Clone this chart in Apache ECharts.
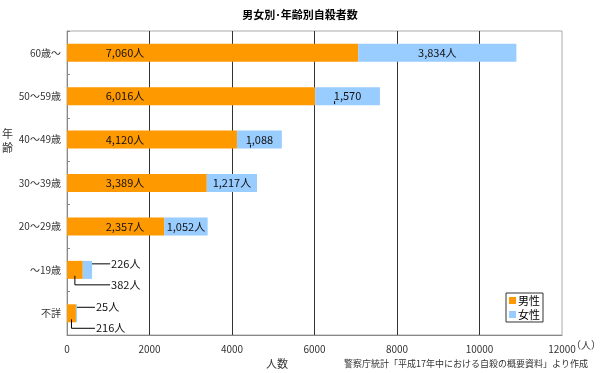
<!DOCTYPE html>
<html><head><meta charset="utf-8">
<script src="https://cdn.jsdelivr.net/npm/echarts@6/dist/echarts.min.js"></script>
<style>html,body{margin:0;padding:0;background:#fff}#c{width:600px;height:373px}</style>
</head><body><div id="c"></div>
<script>
var categories = ['60歳～', '50～59歳', '40～49歳', '30～39歳', '20～29歳', '～19歳', '不詳'];
var maleValues = [7060, 6016, 4120, 3389, 2357, 382, 216];
var femaleValues = [3834, 1570, 1088, 1217, 1052, 226, 25];
var maleLabels = ['7,060人', '6,016人', '4,120人', '3,389人', '2,357人', '382人', '216人'];
var femaleLabels = ['3,834人', '1,570', '1,088', '1,217人', '1,052人', '226人', '25人'];
var xTicks = [0, 2000, 4000, 6000, 8000, 10000, 12000];

var FONT = '"Noto Sans CJK JP", "Noto Sans", sans-serif';
var chart = echarts.init(document.getElementById('c'), null, {renderer: 'canvas'});

var small = maleValues.map(function (v) { return v < 1000; });
var stubs = femaleLabels.map(function (t) { return t.indexOf('人') < 0; });

var maleData = maleValues.map(function (v, i) {
  return {value: v, label: {show: !small[i], formatter: maleLabels[i]}};
});
var femaleData = femaleValues.map(function (v, i) {
  return {value: v, label: {show: !small[i], formatter: femaleLabels[i]}};
});
var annData = [];
categories.forEach(function (c, i) {
  if (small[i] || stubs[i]) annData.push([maleValues[i] + femaleValues[i], i, maleValues[i], femaleValues[i]]);
});

var lineStyle = {stroke: '#000', lineWidth: 1, fill: null};
var option = {
  backgroundColor: '#fff',
  animation: false,
  textStyle: {fontFamily: FONT},
  title: {
    text: '男女別･年齢別自殺者数', left: 'center', top: 4,
    textStyle: {fontSize: 11, fontWeight: 'bold', color: '#000', fontFamily: FONT}
  },
  legend: {
    data: ['男性', '女性'], orient: 'vertical', right: 57, top: 293,
    itemWidth: 7, itemHeight: 7, itemGap: 3,
    borderColor: '#333', borderWidth: 1, borderRadius: 0, padding: [2, 3, 2, 3],
    backgroundColor: '#fff',
    textStyle: {fontSize: 11, color: '#000', fontFamily: FONT, padding: [0, 0, 0, -3]},
    icon: 'rect'
  },
  grid: {left: 67, right: 38, top: 31, bottom: 38, show: true, borderColor: '#aaa', borderWidth: 1, backgroundColor: '#fff'},
  xAxis: {
    type: 'value', min: xTicks[0], max: xTicks[xTicks.length - 1], interval: xTicks[1] - xTicks[0],
    axisLine: {show: true, lineStyle: {color: '#888'}},
    axisTick: {show: false},
    axisLabel: {fontSize: 10, color: '#333', margin: 9, fontFamily: FONT, formatter: function (v) { return String(v); }},
    splitLine: {show: true, showMinLine: false, showMaxLine: false, lineStyle: {color: '#333', width: 1}}
  },
  yAxis: {
    type: 'category', data: categories, inverse: true,
    axisLine: {show: true, lineStyle: {color: '#888'}},
    axisTick: {show: true, inside: true, length: 3, lineStyle: {color: '#888'}},
    axisLabel: {fontSize: 10, color: '#333', margin: 6, fontFamily: FONT},
    splitLine: {show: false}
  },
  series: [
    {
      name: '男性', type: 'bar', stack: 'total', barWidth: 18, data: maleData,
      itemStyle: {color: '#FF9900'},
      label: {position: [58, '50%'], align: 'center', verticalAlign: 'middle', fontSize: 11, color: '#111', fontFamily: FONT}
    },
    {
      name: '女性', type: 'bar', stack: 'total', barWidth: 18, data: femaleData,
      itemStyle: {color: '#99CCFF'},
      label: {position: 'inside', fontSize: 11, color: '#111', fontFamily: FONT}
    },
    {
      type: 'custom', z: 10, silent: true,
      encode: {x: 0, y: 1},
      data: annData,
      renderItem: function (params, api) {
        var total = api.value(0), i = api.value(1), m = api.value(2), f = api.value(3);
        var pEnd = api.coord([total, i]);
        var cy = pEnd[1];
        var children = [];
        if (small[i]) {
          var xe = pEnd[0] + 18;
          var yf = cy - 6;
          children.push({type: 'polyline', shape: {points: [[pEnd[0], yf], [xe, yf]]}, style: lineStyle});
          children.push({type: 'text', style: {x: xe + 1, y: yf, text: femaleLabels[i], fill: '#111', font: '11px ' + FONT, textVerticalAlign: 'middle'}});
          var pm = api.coord([m / 2, i]);
          var ym = cy + 15;
          children.push({type: 'polyline', shape: {points: [[pm[0], cy + 6], [pm[0], ym], [xe, ym]]}, style: lineStyle});
          children.push({type: 'text', style: {x: xe + 1, y: ym, text: maleLabels[i], fill: '#111', font: '11px ' + FONT, textVerticalAlign: 'middle'}});
        } else {
          var ps = api.coord([m + f * 0.3, i]);
          children.push({type: 'line', shape: {x1: ps[0], y1: cy + 5, x2: ps[0], y2: cy + 8}, style: lineStyle});
        }
        return {type: 'group', children: children};
      }
    }
  ],
  graphic: [
    {type: 'text', left: 2, top: 127, style: {text: '年\n齢', font: '11px ' + FONT, fill: '#333', lineHeight: 14}},
    {type: 'text', left: 571, top: 340, style: {text: '（人）', font: '10px ' + FONT, fill: '#333'}},
    {type: 'text', left: 266, top: 358, style: {text: '人数', font: '11px ' + FONT, fill: '#333'}},
    {type: 'text', left: 344, top: 359, style: {text: '警察庁統計「平成17年中における自殺の概要資料」より作成', font: '9px ' + FONT, fill: '#333'}}
  ]
};
chart.setOption(option);
</script></body></html>
